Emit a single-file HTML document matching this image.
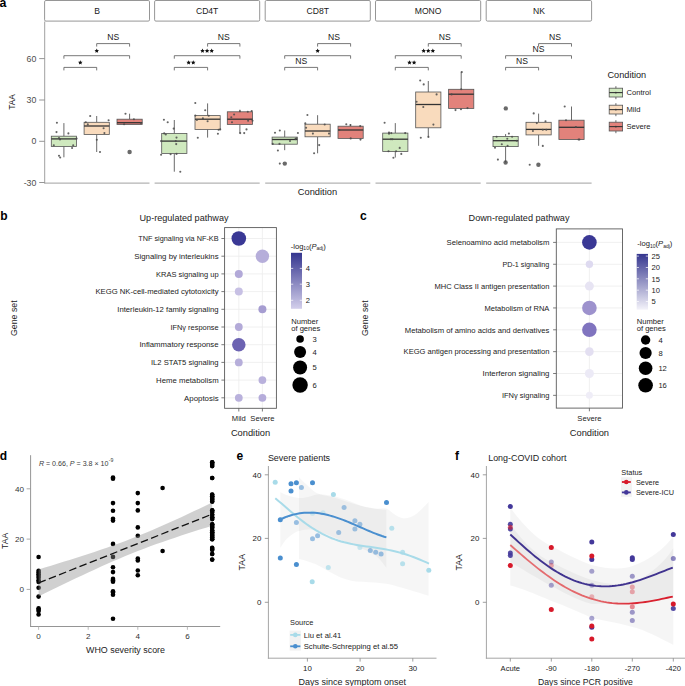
<!DOCTYPE html>
<html><head><meta charset="utf-8"><title>Figure</title>
<style>
html,body{margin:0;padding:0;background:#fff;}
body{width:685px;height:686px;overflow:hidden;}
svg{display:block;font-family:"Liberation Sans", sans-serif;}
</style></head>
<body>
<svg width="685" height="686" viewBox="0 0 685 686">
<rect x="0" y="0" width="685" height="686" fill="#fff"/>
<text x="-0.60" y="6.80" font-size="12.3" text-anchor="start" fill="#000" font-weight="bold" >a</text>
<rect x="44.60" y="0.50" width="104.90" height="20.60" fill="#fff" stroke="#8a8a8a" stroke-width="0.9" rx="1.3"/>
<text x="97.05" y="14.30" font-size="8.6" text-anchor="middle" fill="#1a1a1a" font-weight="normal" >B</text>
<line x1="44.60" y1="183.10" x2="149.50" y2="183.10" stroke="#a0a0a0" stroke-width="1" />
<rect x="154.60" y="0.50" width="105.10" height="20.60" fill="#fff" stroke="#8a8a8a" stroke-width="0.9" rx="1.3"/>
<text x="207.15" y="14.30" font-size="8.6" text-anchor="middle" fill="#1a1a1a" font-weight="normal" >CD4T</text>
<line x1="154.60" y1="183.10" x2="259.70" y2="183.10" stroke="#a0a0a0" stroke-width="1" />
<rect x="265.20" y="0.50" width="105.10" height="20.60" fill="#fff" stroke="#8a8a8a" stroke-width="0.9" rx="1.3"/>
<text x="317.75" y="14.30" font-size="8.6" text-anchor="middle" fill="#1a1a1a" font-weight="normal" >CD8T</text>
<line x1="265.20" y1="183.10" x2="370.30" y2="183.10" stroke="#a0a0a0" stroke-width="1" />
<rect x="375.50" y="0.50" width="105.20" height="20.60" fill="#fff" stroke="#8a8a8a" stroke-width="0.9" rx="1.3"/>
<text x="428.10" y="14.30" font-size="8.6" text-anchor="middle" fill="#1a1a1a" font-weight="normal" >MONO</text>
<line x1="375.50" y1="183.10" x2="480.70" y2="183.10" stroke="#a0a0a0" stroke-width="1" />
<rect x="486.20" y="0.50" width="105.40" height="20.60" fill="#fff" stroke="#8a8a8a" stroke-width="0.9" rx="1.3"/>
<text x="538.90" y="14.30" font-size="8.6" text-anchor="middle" fill="#1a1a1a" font-weight="normal" >NK</text>
<line x1="486.20" y1="183.10" x2="591.60" y2="183.10" stroke="#a0a0a0" stroke-width="1" />
<line x1="44.70" y1="21.50" x2="44.70" y2="183.60" stroke="#a0a0a0" stroke-width="1" />
<line x1="39.20" y1="58.60" x2="44.70" y2="58.60" stroke="#8a8a8a" stroke-width="0.9" />
<text x="36.40" y="61.77" font-size="8.8" text-anchor="end" fill="#4d4d4d" font-weight="normal" >60</text>
<line x1="39.20" y1="100.00" x2="44.70" y2="100.00" stroke="#8a8a8a" stroke-width="0.9" />
<text x="36.40" y="103.17" font-size="8.8" text-anchor="end" fill="#4d4d4d" font-weight="normal" >30</text>
<line x1="39.20" y1="141.30" x2="44.70" y2="141.30" stroke="#8a8a8a" stroke-width="0.9" />
<text x="36.40" y="144.47" font-size="8.8" text-anchor="end" fill="#4d4d4d" font-weight="normal" >0</text>
<line x1="39.20" y1="182.50" x2="44.70" y2="182.50" stroke="#8a8a8a" stroke-width="0.9" />
<text x="36.40" y="185.67" font-size="8.8" text-anchor="end" fill="#4d4d4d" font-weight="normal" >-30</text>
<text x="0" y="0" font-size="8.4" text-anchor="middle" fill="#1a1a1a" transform="translate(15.42,102.00) rotate(-90)">TAA</text>
<text x="317.45" y="194.71" font-size="9.2" text-anchor="middle" fill="#1a1a1a" font-weight="normal" textLength="39.30" lengthAdjust="spacingAndGlyphs">Condition</text>
<line x1="63.90" y1="123.10" x2="63.90" y2="136.20" stroke="#444" stroke-width="0.8" />
<line x1="63.90" y1="146.50" x2="63.90" y2="157.30" stroke="#444" stroke-width="0.8" />
<rect x="51.30" y="136.20" width="25.20" height="10.30" fill="#cfe9be" stroke="#555" stroke-width="0.8" />
<line x1="51.30" y1="138.90" x2="76.50" y2="138.90" stroke="#333" stroke-width="1.3" />
<circle cx="56.90" cy="122.80" r="1.05" fill="#4a4a4a" fill-opacity="0.85"/>
<circle cx="56.50" cy="132.10" r="1.05" fill="#4a4a4a" fill-opacity="0.85"/>
<circle cx="68.40" cy="133.40" r="1.05" fill="#4a4a4a" fill-opacity="0.85"/>
<circle cx="59.00" cy="138.10" r="1.05" fill="#4a4a4a" fill-opacity="0.85"/>
<circle cx="60.00" cy="139.50" r="1.05" fill="#4a4a4a" fill-opacity="0.85"/>
<circle cx="53.80" cy="145.20" r="1.05" fill="#4a4a4a" fill-opacity="0.85"/>
<circle cx="73.20" cy="145.20" r="1.05" fill="#4a4a4a" fill-opacity="0.85"/>
<circle cx="72.10" cy="148.00" r="1.05" fill="#4a4a4a" fill-opacity="0.85"/>
<circle cx="59.00" cy="155.80" r="1.05" fill="#4a4a4a" fill-opacity="0.85"/>
<circle cx="60.20" cy="157.50" r="1.05" fill="#4a4a4a" fill-opacity="0.85"/>
<circle cx="76.60" cy="138.60" r="1.05" fill="#4a4a4a" fill-opacity="0.85"/>
<line x1="96.70" y1="116.00" x2="96.70" y2="122.30" stroke="#444" stroke-width="0.8" />
<line x1="96.70" y1="134.50" x2="96.70" y2="152.00" stroke="#444" stroke-width="0.8" />
<rect x="84.10" y="122.30" width="25.20" height="12.20" fill="#f9dbbd" stroke="#555" stroke-width="0.8" />
<line x1="84.10" y1="126.00" x2="109.30" y2="126.00" stroke="#333" stroke-width="1.3" />
<circle cx="90.20" cy="116.00" r="1.05" fill="#4a4a4a" fill-opacity="0.85"/>
<circle cx="85.80" cy="122.30" r="1.05" fill="#4a4a4a" fill-opacity="0.85"/>
<circle cx="87.80" cy="124.40" r="1.05" fill="#4a4a4a" fill-opacity="0.85"/>
<circle cx="108.60" cy="120.30" r="1.05" fill="#4a4a4a" fill-opacity="0.85"/>
<circle cx="103.60" cy="128.20" r="1.05" fill="#4a4a4a" fill-opacity="0.85"/>
<circle cx="104.40" cy="133.10" r="1.05" fill="#4a4a4a" fill-opacity="0.85"/>
<circle cx="96.80" cy="139.70" r="1.05" fill="#4a4a4a" fill-opacity="0.85"/>
<circle cx="100.00" cy="152.00" r="1.05" fill="#4a4a4a" fill-opacity="0.85"/>
<circle cx="129.60" cy="152.00" r="2.20" fill="#6a6a6a" />
<line x1="129.60" y1="113.70" x2="129.60" y2="119.20" stroke="#444" stroke-width="0.8" />
<line x1="129.60" y1="124.40" x2="129.60" y2="124.40" stroke="#444" stroke-width="0.8" />
<rect x="117.00" y="119.20" width="25.20" height="5.20" fill="#e2827b" stroke="#555" stroke-width="0.8" />
<line x1="117.00" y1="122.70" x2="142.20" y2="122.70" stroke="#333" stroke-width="1.3" />
<circle cx="125.50" cy="113.70" r="1.05" fill="#4a4a4a" fill-opacity="0.85"/>
<circle cx="133.90" cy="119.20" r="1.05" fill="#4a4a4a" fill-opacity="0.85"/>
<circle cx="124.10" cy="124.20" r="1.05" fill="#4a4a4a" fill-opacity="0.85"/>
<circle cx="141.00" cy="123.10" r="1.05" fill="#4a4a4a" fill-opacity="0.85"/>
<line x1="174.30" y1="120.00" x2="174.30" y2="133.40" stroke="#444" stroke-width="0.8" />
<line x1="174.30" y1="153.40" x2="174.30" y2="171.70" stroke="#444" stroke-width="0.8" />
<rect x="161.70" y="133.40" width="25.20" height="20.00" fill="#cfe9be" stroke="#555" stroke-width="0.8" />
<line x1="161.70" y1="141.10" x2="186.90" y2="141.10" stroke="#333" stroke-width="1.3" />
<circle cx="163.90" cy="119.70" r="1.05" fill="#4a4a4a" fill-opacity="0.85"/>
<circle cx="167.70" cy="122.30" r="1.05" fill="#4a4a4a" fill-opacity="0.85"/>
<circle cx="173.70" cy="128.60" r="1.05" fill="#4a4a4a" fill-opacity="0.85"/>
<circle cx="164.20" cy="133.40" r="1.05" fill="#4a4a4a" fill-opacity="0.85"/>
<circle cx="165.80" cy="134.50" r="1.05" fill="#4a4a4a" fill-opacity="0.85"/>
<circle cx="176.50" cy="137.60" r="1.05" fill="#4a4a4a" fill-opacity="0.85"/>
<circle cx="175.80" cy="141.10" r="1.05" fill="#4a4a4a" fill-opacity="0.85"/>
<circle cx="161.10" cy="141.10" r="1.05" fill="#4a4a4a" fill-opacity="0.85"/>
<circle cx="176.20" cy="144.10" r="1.05" fill="#4a4a4a" fill-opacity="0.85"/>
<circle cx="161.10" cy="154.70" r="1.05" fill="#4a4a4a" fill-opacity="0.85"/>
<circle cx="170.60" cy="154.20" r="1.05" fill="#4a4a4a" fill-opacity="0.85"/>
<circle cx="176.50" cy="153.90" r="1.05" fill="#4a4a4a" fill-opacity="0.85"/>
<circle cx="180.30" cy="171.70" r="1.05" fill="#4a4a4a" fill-opacity="0.85"/>
<line x1="207.60" y1="103.40" x2="207.60" y2="115.60" stroke="#444" stroke-width="0.8" />
<line x1="207.60" y1="129.40" x2="207.60" y2="137.60" stroke="#444" stroke-width="0.8" />
<rect x="195.00" y="115.60" width="25.20" height="13.80" fill="#f9dbbd" stroke="#555" stroke-width="0.8" />
<line x1="195.00" y1="119.20" x2="220.20" y2="119.20" stroke="#333" stroke-width="1.3" />
<circle cx="195.30" cy="103.00" r="1.05" fill="#4a4a4a" fill-opacity="0.85"/>
<circle cx="205.20" cy="110.20" r="1.05" fill="#4a4a4a" fill-opacity="0.85"/>
<circle cx="195.30" cy="115.60" r="1.05" fill="#4a4a4a" fill-opacity="0.85"/>
<circle cx="196.90" cy="120.00" r="1.05" fill="#4a4a4a" fill-opacity="0.85"/>
<circle cx="202.90" cy="118.40" r="1.05" fill="#4a4a4a" fill-opacity="0.85"/>
<circle cx="208.70" cy="115.70" r="1.05" fill="#4a4a4a" fill-opacity="0.85"/>
<circle cx="207.60" cy="121.20" r="1.05" fill="#4a4a4a" fill-opacity="0.85"/>
<circle cx="218.60" cy="129.80" r="1.05" fill="#4a4a4a" fill-opacity="0.85"/>
<circle cx="220.20" cy="129.40" r="1.05" fill="#4a4a4a" fill-opacity="0.85"/>
<circle cx="217.90" cy="133.70" r="1.05" fill="#4a4a4a" fill-opacity="0.85"/>
<circle cx="197.80" cy="137.80" r="1.05" fill="#4a4a4a" fill-opacity="0.85"/>
<line x1="239.90" y1="109.70" x2="239.90" y2="111.80" stroke="#444" stroke-width="0.8" />
<line x1="239.90" y1="124.40" x2="239.90" y2="133.40" stroke="#444" stroke-width="0.8" />
<rect x="227.30" y="111.80" width="25.20" height="12.60" fill="#e2827b" stroke="#555" stroke-width="0.8" />
<line x1="227.30" y1="119.20" x2="252.50" y2="119.20" stroke="#333" stroke-width="1.3" />
<circle cx="239.90" cy="111.30" r="1.05" fill="#4a4a4a" fill-opacity="0.85"/>
<circle cx="247.80" cy="111.80" r="1.05" fill="#4a4a4a" fill-opacity="0.85"/>
<circle cx="251.70" cy="111.00" r="1.05" fill="#4a4a4a" fill-opacity="0.85"/>
<circle cx="234.10" cy="114.50" r="1.05" fill="#4a4a4a" fill-opacity="0.85"/>
<circle cx="231.30" cy="117.30" r="1.05" fill="#4a4a4a" fill-opacity="0.85"/>
<circle cx="248.10" cy="120.80" r="1.05" fill="#4a4a4a" fill-opacity="0.85"/>
<circle cx="252.50" cy="120.80" r="1.05" fill="#4a4a4a" fill-opacity="0.85"/>
<circle cx="232.00" cy="122.30" r="1.05" fill="#4a4a4a" fill-opacity="0.85"/>
<circle cx="246.50" cy="129.40" r="1.05" fill="#4a4a4a" fill-opacity="0.85"/>
<circle cx="240.20" cy="133.10" r="1.05" fill="#4a4a4a" fill-opacity="0.85"/>
<circle cx="244.20" cy="133.10" r="1.05" fill="#4a4a4a" fill-opacity="0.85"/>
<circle cx="284.80" cy="163.60" r="2.20" fill="#6a6a6a" />
<line x1="284.70" y1="130.50" x2="284.70" y2="137.10" stroke="#444" stroke-width="0.8" />
<line x1="284.70" y1="144.20" x2="284.70" y2="150.20" stroke="#444" stroke-width="0.8" />
<rect x="272.10" y="137.10" width="25.20" height="7.10" fill="#cfe9be" stroke="#555" stroke-width="0.8" />
<line x1="272.10" y1="139.50" x2="297.30" y2="139.50" stroke="#333" stroke-width="1.3" />
<circle cx="275.00" cy="132.80" r="1.05" fill="#4a4a4a" fill-opacity="0.85"/>
<circle cx="279.80" cy="130.50" r="1.05" fill="#4a4a4a" fill-opacity="0.85"/>
<circle cx="297.90" cy="133.00" r="1.05" fill="#4a4a4a" fill-opacity="0.85"/>
<circle cx="296.30" cy="138.40" r="1.05" fill="#4a4a4a" fill-opacity="0.85"/>
<circle cx="295.50" cy="139.10" r="1.05" fill="#4a4a4a" fill-opacity="0.85"/>
<circle cx="290.00" cy="141.00" r="1.05" fill="#4a4a4a" fill-opacity="0.85"/>
<circle cx="272.70" cy="143.90" r="1.05" fill="#4a4a4a" fill-opacity="0.85"/>
<circle cx="279.50" cy="143.90" r="1.05" fill="#4a4a4a" fill-opacity="0.85"/>
<circle cx="277.90" cy="150.50" r="1.05" fill="#4a4a4a" fill-opacity="0.85"/>
<circle cx="279.80" cy="163.60" r="1.05" fill="#4a4a4a" fill-opacity="0.85"/>
<line x1="317.60" y1="115.20" x2="317.60" y2="124.20" stroke="#444" stroke-width="0.8" />
<line x1="317.60" y1="136.80" x2="317.60" y2="153.30" stroke="#444" stroke-width="0.8" />
<rect x="305.00" y="124.20" width="25.20" height="12.60" fill="#f9dbbd" stroke="#555" stroke-width="0.8" />
<line x1="305.00" y1="131.00" x2="330.20" y2="131.00" stroke="#333" stroke-width="1.3" />
<circle cx="307.40" cy="115.00" r="1.05" fill="#4a4a4a" fill-opacity="0.85"/>
<circle cx="305.30" cy="123.40" r="1.05" fill="#4a4a4a" fill-opacity="0.85"/>
<circle cx="306.10" cy="127.80" r="1.05" fill="#4a4a4a" fill-opacity="0.85"/>
<circle cx="324.70" cy="124.50" r="1.05" fill="#4a4a4a" fill-opacity="0.85"/>
<circle cx="312.90" cy="133.60" r="1.05" fill="#4a4a4a" fill-opacity="0.85"/>
<circle cx="329.00" cy="133.60" r="1.05" fill="#4a4a4a" fill-opacity="0.85"/>
<circle cx="319.20" cy="145.10" r="1.05" fill="#4a4a4a" fill-opacity="0.85"/>
<circle cx="314.10" cy="153.30" r="1.05" fill="#4a4a4a" fill-opacity="0.85"/>
<line x1="350.60" y1="124.20" x2="350.60" y2="126.20" stroke="#444" stroke-width="0.8" />
<line x1="350.60" y1="138.40" x2="350.60" y2="138.40" stroke="#444" stroke-width="0.8" />
<rect x="338.00" y="126.20" width="25.20" height="12.20" fill="#e2827b" stroke="#555" stroke-width="0.8" />
<line x1="338.00" y1="130.00" x2="363.20" y2="130.00" stroke="#333" stroke-width="1.3" />
<circle cx="346.30" cy="124.20" r="1.05" fill="#4a4a4a" fill-opacity="0.85"/>
<circle cx="350.40" cy="125.00" r="1.05" fill="#4a4a4a" fill-opacity="0.85"/>
<circle cx="360.20" cy="126.10" r="1.05" fill="#4a4a4a" fill-opacity="0.85"/>
<circle cx="339.40" cy="130.00" r="1.05" fill="#4a4a4a" fill-opacity="0.85"/>
<circle cx="350.70" cy="138.40" r="1.05" fill="#4a4a4a" fill-opacity="0.85"/>
<circle cx="360.50" cy="139.60" r="1.05" fill="#4a4a4a" fill-opacity="0.85"/>
<line x1="395.30" y1="123.10" x2="395.30" y2="133.10" stroke="#444" stroke-width="0.8" />
<line x1="395.30" y1="151.50" x2="395.30" y2="157.50" stroke="#444" stroke-width="0.8" />
<rect x="382.70" y="133.10" width="25.20" height="18.40" fill="#cfe9be" stroke="#555" stroke-width="0.8" />
<line x1="382.70" y1="139.20" x2="407.90" y2="139.20" stroke="#333" stroke-width="1.3" />
<circle cx="384.60" cy="122.80" r="1.05" fill="#4a4a4a" fill-opacity="0.85"/>
<circle cx="389.00" cy="132.60" r="1.05" fill="#4a4a4a" fill-opacity="0.85"/>
<circle cx="389.00" cy="133.70" r="1.05" fill="#4a4a4a" fill-opacity="0.85"/>
<circle cx="391.30" cy="133.10" r="1.05" fill="#4a4a4a" fill-opacity="0.85"/>
<circle cx="405.20" cy="133.10" r="1.05" fill="#4a4a4a" fill-opacity="0.85"/>
<circle cx="390.90" cy="139.20" r="1.05" fill="#4a4a4a" fill-opacity="0.85"/>
<circle cx="392.40" cy="139.20" r="1.05" fill="#4a4a4a" fill-opacity="0.85"/>
<circle cx="399.70" cy="147.90" r="1.05" fill="#4a4a4a" fill-opacity="0.85"/>
<circle cx="388.50" cy="151.20" r="1.05" fill="#4a4a4a" fill-opacity="0.85"/>
<circle cx="396.10" cy="151.20" r="1.05" fill="#4a4a4a" fill-opacity="0.85"/>
<circle cx="401.30" cy="153.90" r="1.05" fill="#4a4a4a" fill-opacity="0.85"/>
<circle cx="393.40" cy="157.80" r="1.05" fill="#4a4a4a" fill-opacity="0.85"/>
<line x1="428.30" y1="81.00" x2="428.30" y2="92.00" stroke="#444" stroke-width="0.8" />
<line x1="428.30" y1="127.80" x2="428.30" y2="136.90" stroke="#444" stroke-width="0.8" />
<rect x="415.70" y="92.00" width="25.20" height="35.80" fill="#f9dbbd" stroke="#555" stroke-width="0.8" />
<line x1="415.70" y1="104.50" x2="440.90" y2="104.50" stroke="#333" stroke-width="1.3" />
<circle cx="420.20" cy="80.50" r="1.05" fill="#4a4a4a" fill-opacity="0.85"/>
<circle cx="423.70" cy="84.40" r="1.05" fill="#4a4a4a" fill-opacity="0.85"/>
<circle cx="436.60" cy="94.40" r="1.05" fill="#4a4a4a" fill-opacity="0.85"/>
<circle cx="416.60" cy="101.80" r="1.05" fill="#4a4a4a" fill-opacity="0.85"/>
<circle cx="423.30" cy="107.00" r="1.05" fill="#4a4a4a" fill-opacity="0.85"/>
<circle cx="433.40" cy="124.60" r="1.05" fill="#4a4a4a" fill-opacity="0.85"/>
<circle cx="420.80" cy="137.70" r="1.05" fill="#4a4a4a" fill-opacity="0.85"/>
<circle cx="428.40" cy="136.90" r="1.05" fill="#4a4a4a" fill-opacity="0.85"/>
<line x1="461.20" y1="71.80" x2="461.20" y2="89.30" stroke="#444" stroke-width="0.8" />
<line x1="461.20" y1="108.40" x2="461.20" y2="108.40" stroke="#444" stroke-width="0.8" />
<rect x="448.60" y="89.30" width="25.20" height="19.10" fill="#e2827b" stroke="#555" stroke-width="0.8" />
<line x1="448.60" y1="94.20" x2="473.80" y2="94.20" stroke="#333" stroke-width="1.3" />
<circle cx="461.80" cy="72.10" r="1.05" fill="#4a4a4a" fill-opacity="0.85"/>
<circle cx="461.20" cy="89.30" r="1.05" fill="#4a4a4a" fill-opacity="0.85"/>
<circle cx="451.60" cy="94.40" r="1.05" fill="#4a4a4a" fill-opacity="0.85"/>
<circle cx="455.50" cy="110.10" r="1.05" fill="#4a4a4a" fill-opacity="0.85"/>
<circle cx="461.00" cy="109.20" r="1.05" fill="#4a4a4a" fill-opacity="0.85"/>
<circle cx="467.50" cy="108.10" r="1.05" fill="#4a4a4a" fill-opacity="0.85"/>
<circle cx="505.80" cy="108.40" r="2.20" fill="#6a6a6a" />
<circle cx="505.60" cy="162.50" r="2.20" fill="#6a6a6a" />
<line x1="505.60" y1="134.10" x2="505.60" y2="136.50" stroke="#444" stroke-width="0.8" />
<line x1="505.60" y1="146.60" x2="505.60" y2="162.50" stroke="#444" stroke-width="0.8" />
<rect x="493.00" y="136.50" width="25.20" height="10.10" fill="#cfe9be" stroke="#555" stroke-width="0.8" />
<line x1="493.00" y1="140.70" x2="518.20" y2="140.70" stroke="#333" stroke-width="1.3" />
<circle cx="508.90" cy="133.60" r="1.05" fill="#4a4a4a" fill-opacity="0.85"/>
<circle cx="496.60" cy="136.80" r="1.05" fill="#4a4a4a" fill-opacity="0.85"/>
<circle cx="512.10" cy="136.80" r="1.05" fill="#4a4a4a" fill-opacity="0.85"/>
<circle cx="507.30" cy="138.80" r="1.05" fill="#4a4a4a" fill-opacity="0.85"/>
<circle cx="516.80" cy="140.70" r="1.05" fill="#4a4a4a" fill-opacity="0.85"/>
<circle cx="501.80" cy="144.30" r="1.05" fill="#4a4a4a" fill-opacity="0.85"/>
<circle cx="507.60" cy="145.90" r="1.05" fill="#4a4a4a" fill-opacity="0.85"/>
<circle cx="495.00" cy="147.80" r="1.05" fill="#4a4a4a" fill-opacity="0.85"/>
<circle cx="497.90" cy="159.60" r="1.05" fill="#4a4a4a" fill-opacity="0.85"/>
<circle cx="538.40" cy="164.80" r="2.20" fill="#6a6a6a" />
<line x1="538.60" y1="113.60" x2="538.60" y2="122.30" stroke="#444" stroke-width="0.8" />
<line x1="538.60" y1="134.90" x2="538.60" y2="145.80" stroke="#444" stroke-width="0.8" />
<rect x="526.00" y="122.30" width="25.20" height="12.60" fill="#f9dbbd" stroke="#555" stroke-width="0.8" />
<line x1="526.00" y1="129.40" x2="551.20" y2="129.40" stroke="#333" stroke-width="1.3" />
<circle cx="533.70" cy="113.40" r="1.05" fill="#4a4a4a" fill-opacity="0.85"/>
<circle cx="545.50" cy="121.30" r="1.05" fill="#4a4a4a" fill-opacity="0.85"/>
<circle cx="536.80" cy="123.10" r="1.05" fill="#4a4a4a" fill-opacity="0.85"/>
<circle cx="532.90" cy="131.00" r="1.05" fill="#4a4a4a" fill-opacity="0.85"/>
<circle cx="542.80" cy="129.70" r="1.05" fill="#4a4a4a" fill-opacity="0.85"/>
<circle cx="546.30" cy="129.70" r="1.05" fill="#4a4a4a" fill-opacity="0.85"/>
<circle cx="542.80" cy="145.90" r="1.05" fill="#4a4a4a" fill-opacity="0.85"/>
<circle cx="529.70" cy="164.80" r="1.05" fill="#4a4a4a" fill-opacity="0.85"/>
<line x1="571.50" y1="106.50" x2="571.50" y2="120.20" stroke="#444" stroke-width="0.8" />
<line x1="571.50" y1="139.50" x2="571.50" y2="139.50" stroke="#444" stroke-width="0.8" />
<rect x="558.90" y="120.20" width="25.20" height="19.30" fill="#e2827b" stroke="#555" stroke-width="0.8" />
<line x1="558.90" y1="127.30" x2="584.10" y2="127.30" stroke="#333" stroke-width="1.3" />
<circle cx="564.70" cy="106.50" r="1.05" fill="#4a4a4a" fill-opacity="0.85"/>
<circle cx="566.00" cy="120.20" r="1.05" fill="#4a4a4a" fill-opacity="0.85"/>
<circle cx="575.90" cy="127.00" r="1.05" fill="#4a4a4a" fill-opacity="0.85"/>
<circle cx="578.60" cy="139.50" r="1.05" fill="#4a4a4a" fill-opacity="0.85"/>
<circle cx="579.40" cy="139.50" r="1.05" fill="#4a4a4a" fill-opacity="0.85"/>
<polyline points="96.70,46.60 96.70,43.60 129.60,43.60 129.60,46.60" fill="none" stroke="#555" stroke-width="0.8"/>
<text x="113.15" y="40.30" font-size="8.6" text-anchor="middle" fill="#1a1a1a" font-weight="normal" >NS</text>
<polyline points="63.90,58.70 63.90,55.70 129.60,55.70 129.60,58.70" fill="none" stroke="#555" stroke-width="0.8"/>
<polygon points="96.75,48.55 97.44,49.95 98.98,50.17 97.87,51.26 98.13,52.80 96.75,52.08 95.37,52.80 95.63,51.26 94.52,50.17 96.06,49.95" fill="#111"/>
<polyline points="63.90,70.40 63.90,67.40 96.70,67.40 96.70,70.40" fill="none" stroke="#555" stroke-width="0.8"/>
<polygon points="80.30,60.25 80.99,61.65 82.53,61.87 81.42,62.96 81.68,64.50 80.30,63.78 78.92,64.50 79.18,62.96 78.07,61.87 79.61,61.65" fill="#111"/>
<polyline points="207.60,46.60 207.60,43.60 239.90,43.60 239.90,46.60" fill="none" stroke="#555" stroke-width="0.8"/>
<text x="223.75" y="40.30" font-size="8.6" text-anchor="middle" fill="#1a1a1a" font-weight="normal" >NS</text>
<polyline points="174.30,58.70 174.30,55.70 239.90,55.70 239.90,58.70" fill="none" stroke="#555" stroke-width="0.8"/>
<polygon points="202.50,48.55 203.19,49.95 204.73,50.17 203.62,51.26 203.88,52.80 202.50,52.08 201.12,52.80 201.38,51.26 200.27,50.17 201.81,49.95" fill="#111"/>
<polygon points="207.10,48.55 207.79,49.95 209.33,50.17 208.22,51.26 208.48,52.80 207.10,52.08 205.72,52.80 205.98,51.26 204.87,50.17 206.41,49.95" fill="#111"/>
<polygon points="211.70,48.55 212.39,49.95 213.93,50.17 212.82,51.26 213.08,52.80 211.70,52.08 210.32,52.80 210.58,51.26 209.47,50.17 211.01,49.95" fill="#111"/>
<polyline points="174.30,70.40 174.30,67.40 207.60,67.40 207.60,70.40" fill="none" stroke="#555" stroke-width="0.8"/>
<polygon points="188.65,60.25 189.34,61.65 190.88,61.87 189.77,62.96 190.03,64.50 188.65,63.78 187.27,64.50 187.53,62.96 186.42,61.87 187.96,61.65" fill="#111"/>
<polygon points="193.25,60.25 193.94,61.65 195.48,61.87 194.37,62.96 194.63,64.50 193.25,63.78 191.87,64.50 192.13,62.96 191.02,61.87 192.56,61.65" fill="#111"/>
<polyline points="317.60,46.60 317.60,43.60 350.60,43.60 350.60,46.60" fill="none" stroke="#555" stroke-width="0.8"/>
<text x="334.10" y="40.30" font-size="8.6" text-anchor="middle" fill="#1a1a1a" font-weight="normal" >NS</text>
<polyline points="284.70,58.70 284.70,55.70 350.60,55.70 350.60,58.70" fill="none" stroke="#555" stroke-width="0.8"/>
<polygon points="317.65,48.55 318.34,49.95 319.88,50.17 318.77,51.26 319.03,52.80 317.65,52.08 316.27,52.80 316.53,51.26 315.42,50.17 316.96,49.95" fill="#111"/>
<polyline points="284.70,70.40 284.70,67.40 317.60,67.40 317.60,70.40" fill="none" stroke="#555" stroke-width="0.8"/>
<text x="301.15" y="64.10" font-size="8.6" text-anchor="middle" fill="#1a1a1a" font-weight="normal" >NS</text>
<polyline points="428.30,46.60 428.30,43.60 461.20,43.60 461.20,46.60" fill="none" stroke="#555" stroke-width="0.8"/>
<text x="444.75" y="40.30" font-size="8.6" text-anchor="middle" fill="#1a1a1a" font-weight="normal" >NS</text>
<polyline points="395.30,58.70 395.30,55.70 461.20,55.70 461.20,58.70" fill="none" stroke="#555" stroke-width="0.8"/>
<polygon points="423.65,48.55 424.34,49.95 425.88,50.17 424.77,51.26 425.03,52.80 423.65,52.08 422.27,52.80 422.53,51.26 421.42,50.17 422.96,49.95" fill="#111"/>
<polygon points="428.25,48.55 428.94,49.95 430.48,50.17 429.37,51.26 429.63,52.80 428.25,52.08 426.87,52.80 427.13,51.26 426.02,50.17 427.56,49.95" fill="#111"/>
<polygon points="432.85,48.55 433.54,49.95 435.08,50.17 433.97,51.26 434.23,52.80 432.85,52.08 431.47,52.80 431.73,51.26 430.62,50.17 432.16,49.95" fill="#111"/>
<polyline points="395.30,70.40 395.30,67.40 428.30,67.40 428.30,70.40" fill="none" stroke="#555" stroke-width="0.8"/>
<polygon points="409.50,60.25 410.19,61.65 411.73,61.87 410.62,62.96 410.88,64.50 409.50,63.78 408.12,64.50 408.38,62.96 407.27,61.87 408.81,61.65" fill="#111"/>
<polygon points="414.10,60.25 414.79,61.65 416.33,61.87 415.22,62.96 415.48,64.50 414.10,63.78 412.72,64.50 412.98,62.96 411.87,61.87 413.41,61.65" fill="#111"/>
<polyline points="538.60,46.60 538.60,43.60 571.50,43.60 571.50,46.60" fill="none" stroke="#555" stroke-width="0.8"/>
<text x="555.05" y="40.30" font-size="8.6" text-anchor="middle" fill="#1a1a1a" font-weight="normal" >NS</text>
<polyline points="505.60,58.70 505.60,55.70 571.50,55.70 571.50,58.70" fill="none" stroke="#555" stroke-width="0.8"/>
<text x="538.55" y="52.40" font-size="8.6" text-anchor="middle" fill="#1a1a1a" font-weight="normal" >NS</text>
<polyline points="505.60,70.40 505.60,67.40 538.60,67.40 538.60,70.40" fill="none" stroke="#555" stroke-width="0.8"/>
<text x="522.10" y="64.10" font-size="8.6" text-anchor="middle" fill="#1a1a1a" font-weight="normal" >NS</text>
<text x="626.85" y="78.21" font-size="9.2" text-anchor="middle" fill="#1a1a1a" font-weight="normal" textLength="38.70" lengthAdjust="spacingAndGlyphs">Condition</text>
<line x1="615.90" y1="86.20" x2="615.90" y2="99.20" stroke="#444" stroke-width="0.8" />
<rect x="609.20" y="88.20" width="13.40" height="8.80" fill="#cfe9be" stroke="#555" stroke-width="0.8" />
<line x1="609.20" y1="92.60" x2="622.60" y2="92.60" stroke="#333" stroke-width="1.1" />
<circle cx="615.90" cy="92.60" r="0.90" fill="#333" />
<text x="626.50" y="95.34" font-size="7.6" text-anchor="start" fill="#1a1a1a" font-weight="normal" >Control</text>
<line x1="615.90" y1="103.20" x2="615.90" y2="116.20" stroke="#444" stroke-width="0.8" />
<rect x="609.20" y="105.20" width="13.40" height="8.80" fill="#f9dbbd" stroke="#555" stroke-width="0.8" />
<line x1="609.20" y1="109.60" x2="622.60" y2="109.60" stroke="#333" stroke-width="1.1" />
<circle cx="615.90" cy="109.60" r="0.90" fill="#333" />
<text x="626.50" y="112.34" font-size="7.6" text-anchor="start" fill="#1a1a1a" font-weight="normal" >Mild</text>
<line x1="615.90" y1="120.20" x2="615.90" y2="133.20" stroke="#444" stroke-width="0.8" />
<rect x="609.20" y="122.20" width="13.40" height="8.80" fill="#e2827b" stroke="#555" stroke-width="0.8" />
<line x1="609.20" y1="126.60" x2="622.60" y2="126.60" stroke="#333" stroke-width="1.1" />
<circle cx="615.90" cy="126.60" r="0.90" fill="#333" />
<text x="626.50" y="129.34" font-size="7.6" text-anchor="start" fill="#1a1a1a" font-weight="normal" >Severe</text>
<text x="0.20" y="219.60" font-size="12.0" text-anchor="start" fill="#000" font-weight="bold" >b</text>
<line x1="224.60" y1="238.50" x2="276.40" y2="238.50" stroke="#ececec" stroke-width="0.8" />
<line x1="224.60" y1="256.20" x2="276.40" y2="256.20" stroke="#ececec" stroke-width="0.8" />
<line x1="224.60" y1="273.90" x2="276.40" y2="273.90" stroke="#ececec" stroke-width="0.8" />
<line x1="224.60" y1="291.60" x2="276.40" y2="291.60" stroke="#ececec" stroke-width="0.8" />
<line x1="224.60" y1="309.30" x2="276.40" y2="309.30" stroke="#ececec" stroke-width="0.8" />
<line x1="224.60" y1="327.00" x2="276.40" y2="327.00" stroke="#ececec" stroke-width="0.8" />
<line x1="224.60" y1="344.70" x2="276.40" y2="344.70" stroke="#ececec" stroke-width="0.8" />
<line x1="224.60" y1="362.40" x2="276.40" y2="362.40" stroke="#ececec" stroke-width="0.8" />
<line x1="224.60" y1="380.10" x2="276.40" y2="380.10" stroke="#ececec" stroke-width="0.8" />
<line x1="224.60" y1="397.80" x2="276.40" y2="397.80" stroke="#ececec" stroke-width="0.8" />
<line x1="238.80" y1="227.60" x2="238.80" y2="408.30" stroke="#ececec" stroke-width="0.8" />
<line x1="262.40" y1="227.60" x2="262.40" y2="408.30" stroke="#ececec" stroke-width="0.8" />
<rect x="224.60" y="227.60" width="51.80" height="180.70" fill="none" stroke="#5a5a5a" stroke-width="0.9" />
<line x1="221.40" y1="238.50" x2="224.60" y2="238.50" stroke="#5a5a5a" stroke-width="0.8" />
<text x="218.60" y="241.27" font-size="7.7" text-anchor="end" fill="#222" font-weight="normal" textLength="80.40" lengthAdjust="spacingAndGlyphs">TNF signaling via NF-KB</text>
<line x1="221.40" y1="256.20" x2="224.60" y2="256.20" stroke="#5a5a5a" stroke-width="0.8" />
<text x="218.60" y="258.97" font-size="7.7" text-anchor="end" fill="#222" font-weight="normal" textLength="84.30" lengthAdjust="spacingAndGlyphs">Signaling by interleukins</text>
<line x1="221.40" y1="273.90" x2="224.60" y2="273.90" stroke="#5a5a5a" stroke-width="0.8" />
<text x="218.60" y="276.67" font-size="7.7" text-anchor="end" fill="#222" font-weight="normal" textLength="62.50" lengthAdjust="spacingAndGlyphs">KRAS signaling up</text>
<line x1="221.40" y1="291.60" x2="224.60" y2="291.60" stroke="#5a5a5a" stroke-width="0.8" />
<text x="218.60" y="294.37" font-size="7.7" text-anchor="end" fill="#222" font-weight="normal" textLength="123.20" lengthAdjust="spacingAndGlyphs">KEGG NK-cell-mediated cytotoxicity</text>
<line x1="221.40" y1="309.30" x2="224.60" y2="309.30" stroke="#5a5a5a" stroke-width="0.8" />
<text x="218.60" y="312.07" font-size="7.7" text-anchor="end" fill="#222" font-weight="normal" textLength="101.30" lengthAdjust="spacingAndGlyphs">Interleukin-12 family signaling</text>
<line x1="221.40" y1="327.00" x2="224.60" y2="327.00" stroke="#5a5a5a" stroke-width="0.8" />
<text x="218.60" y="329.77" font-size="7.7" text-anchor="end" fill="#222" font-weight="normal" textLength="48.20" lengthAdjust="spacingAndGlyphs">IFNγ response</text>
<line x1="221.40" y1="344.70" x2="224.60" y2="344.70" stroke="#5a5a5a" stroke-width="0.8" />
<text x="218.60" y="347.47" font-size="7.7" text-anchor="end" fill="#222" font-weight="normal" textLength="79.20" lengthAdjust="spacingAndGlyphs">Inflammatory response</text>
<line x1="221.40" y1="362.40" x2="224.60" y2="362.40" stroke="#5a5a5a" stroke-width="0.8" />
<text x="218.60" y="365.17" font-size="7.7" text-anchor="end" fill="#222" font-weight="normal" textLength="67.60" lengthAdjust="spacingAndGlyphs">IL2 STAT5 signaling</text>
<line x1="221.40" y1="380.10" x2="224.60" y2="380.10" stroke="#5a5a5a" stroke-width="0.8" />
<text x="218.60" y="382.87" font-size="7.7" text-anchor="end" fill="#222" font-weight="normal" textLength="62.50" lengthAdjust="spacingAndGlyphs">Heme metabolism</text>
<line x1="221.40" y1="397.80" x2="224.60" y2="397.80" stroke="#5a5a5a" stroke-width="0.8" />
<text x="218.60" y="400.57" font-size="7.7" text-anchor="end" fill="#222" font-weight="normal" textLength="34.50" lengthAdjust="spacingAndGlyphs">Apoptosis</text>
<line x1="238.80" y1="408.30" x2="238.80" y2="411.50" stroke="#5a5a5a" stroke-width="0.8" />
<text x="238.80" y="421.24" font-size="7.6" text-anchor="middle" fill="#222" font-weight="normal" >Mild</text>
<line x1="262.40" y1="408.30" x2="262.40" y2="411.50" stroke="#5a5a5a" stroke-width="0.8" />
<text x="262.40" y="421.24" font-size="7.6" text-anchor="middle" fill="#222" font-weight="normal" >Severe</text>
<text x="250.55" y="435.81" font-size="9.2" text-anchor="middle" fill="#222" font-weight="normal" textLength="39.30" lengthAdjust="spacingAndGlyphs">Condition</text>
<text x="184.00" y="220.84" font-size="9.0" text-anchor="middle" fill="#222" font-weight="normal" textLength="89.00" lengthAdjust="spacingAndGlyphs">Up-regulated pathway</text>
<text x="0" y="0" font-size="8.8" text-anchor="middle" fill="#222" transform="translate(17.37,318.20) rotate(-90)">Gene set</text>
<circle cx="238.80" cy="238.50" r="7.30" fill="#3a3895" />
<circle cx="262.40" cy="256.20" r="6.70" fill="#b6aeda" />
<circle cx="238.80" cy="273.90" r="4.00" fill="#b2a9d8" />
<circle cx="238.80" cy="291.60" r="4.00" fill="#c7c0e4" />
<circle cx="262.40" cy="309.30" r="4.00" fill="#a69dd1" />
<circle cx="238.80" cy="327.00" r="3.90" fill="#b3aad8" />
<circle cx="238.80" cy="344.70" r="6.75" fill="#6c63b2" />
<circle cx="238.80" cy="362.40" r="3.90" fill="#b6aeda" />
<circle cx="262.40" cy="380.10" r="3.90" fill="#b9b1dc" />
<circle cx="238.80" cy="397.80" r="3.90" fill="#b9b1dc" />
<circle cx="262.40" cy="397.80" r="3.90" fill="#b5acda" />
<defs><linearGradient id="gb" x1="0" y1="0" x2="0" y2="1"><stop offset="0" stop-color="#35368f"/><stop offset="1" stop-color="#d3cfeb"/></linearGradient></defs>
<rect x="291.00" y="252.80" width="11.00" height="56.00" fill="url(#gb)" stroke="none" stroke-width="1" />
<line x1="291.00" y1="268.40" x2="293.20" y2="268.40" stroke="#fff" stroke-width="0.7" />
<line x1="299.80" y1="268.40" x2="302.00" y2="268.40" stroke="#fff" stroke-width="0.7" />
<text x="305.80" y="271.14" font-size="7.6" text-anchor="start" fill="#222" font-weight="normal" >4</text>
<line x1="291.00" y1="284.20" x2="293.20" y2="284.20" stroke="#fff" stroke-width="0.7" />
<line x1="299.80" y1="284.20" x2="302.00" y2="284.20" stroke="#fff" stroke-width="0.7" />
<text x="305.80" y="286.94" font-size="7.6" text-anchor="start" fill="#222" font-weight="normal" >3</text>
<line x1="291.00" y1="300.30" x2="293.20" y2="300.30" stroke="#fff" stroke-width="0.7" />
<line x1="299.80" y1="300.30" x2="302.00" y2="300.30" stroke="#fff" stroke-width="0.7" />
<text x="305.80" y="303.04" font-size="7.6" text-anchor="start" fill="#222" font-weight="normal" >2</text>
<text x="290.70" y="248.70" font-size="7.6" fill="#222">-log<tspan font-size="5" dy="1.6">10</tspan><tspan dy="-1.6">(</tspan><tspan font-style="italic">P</tspan><tspan font-size="5" dy="1.6">adj</tspan><tspan dy="-1.6">)</tspan></text>
<text x="291.20" y="324.14" font-size="7.6" text-anchor="start" fill="#222" font-weight="normal" >Number</text>
<text x="291.20" y="331.24" font-size="7.6" text-anchor="start" fill="#222" font-weight="normal" >of genes</text>
<circle cx="300.10" cy="339.00" r="3.80" fill="#000" />
<text x="312.60" y="341.74" font-size="7.6" text-anchor="start" fill="#222" font-weight="normal" >3</text>
<circle cx="300.10" cy="352.10" r="6.00" fill="#000" />
<text x="312.60" y="354.84" font-size="7.6" text-anchor="start" fill="#222" font-weight="normal" >4</text>
<circle cx="300.10" cy="367.50" r="7.00" fill="#000" />
<text x="312.60" y="370.24" font-size="7.6" text-anchor="start" fill="#222" font-weight="normal" >5</text>
<circle cx="300.10" cy="385.00" r="7.70" fill="#000" />
<text x="312.60" y="387.74" font-size="7.6" text-anchor="start" fill="#222" font-weight="normal" >6</text>
<text x="360.00" y="219.50" font-size="12.0" text-anchor="start" fill="#000" font-weight="bold" >c</text>
<line x1="556.30" y1="242.40" x2="622.50" y2="242.40" stroke="#ececec" stroke-width="0.8" />
<line x1="556.30" y1="264.25" x2="622.50" y2="264.25" stroke="#ececec" stroke-width="0.8" />
<line x1="556.30" y1="286.10" x2="622.50" y2="286.10" stroke="#ececec" stroke-width="0.8" />
<line x1="556.30" y1="307.95" x2="622.50" y2="307.95" stroke="#ececec" stroke-width="0.8" />
<line x1="556.30" y1="329.80" x2="622.50" y2="329.80" stroke="#ececec" stroke-width="0.8" />
<line x1="556.30" y1="351.65" x2="622.50" y2="351.65" stroke="#ececec" stroke-width="0.8" />
<line x1="556.30" y1="373.50" x2="622.50" y2="373.50" stroke="#ececec" stroke-width="0.8" />
<line x1="556.30" y1="395.35" x2="622.50" y2="395.35" stroke="#ececec" stroke-width="0.8" />
<line x1="589.40" y1="228.90" x2="589.40" y2="408.10" stroke="#ececec" stroke-width="0.8" />
<rect x="556.30" y="228.90" width="66.20" height="179.20" fill="none" stroke="#5a5a5a" stroke-width="0.9" />
<line x1="553.10" y1="242.40" x2="556.30" y2="242.40" stroke="#5a5a5a" stroke-width="0.8" />
<text x="549.40" y="245.17" font-size="7.7" text-anchor="end" fill="#222" font-weight="normal" textLength="102.90" lengthAdjust="spacingAndGlyphs">Selenoamino acid metabolism</text>
<line x1="553.10" y1="264.25" x2="556.30" y2="264.25" stroke="#5a5a5a" stroke-width="0.8" />
<text x="549.40" y="267.02" font-size="7.7" text-anchor="end" fill="#222" font-weight="normal" textLength="47.00" lengthAdjust="spacingAndGlyphs">PD-1 signaling</text>
<line x1="553.10" y1="286.10" x2="556.30" y2="286.10" stroke="#5a5a5a" stroke-width="0.8" />
<text x="549.40" y="288.87" font-size="7.7" text-anchor="end" fill="#222" font-weight="normal" textLength="115.00" lengthAdjust="spacingAndGlyphs">MHC Class II antigen presentation</text>
<line x1="553.10" y1="307.95" x2="556.30" y2="307.95" stroke="#5a5a5a" stroke-width="0.8" />
<text x="549.40" y="310.72" font-size="7.7" text-anchor="end" fill="#222" font-weight="normal" textLength="64.90" lengthAdjust="spacingAndGlyphs">Metabolism of RNA</text>
<line x1="553.10" y1="329.80" x2="556.30" y2="329.80" stroke="#5a5a5a" stroke-width="0.8" />
<text x="549.40" y="332.57" font-size="7.7" text-anchor="end" fill="#222" font-weight="normal" textLength="144.60" lengthAdjust="spacingAndGlyphs">Metabolism of amino acids and derivatives</text>
<line x1="553.10" y1="351.65" x2="556.30" y2="351.65" stroke="#5a5a5a" stroke-width="0.8" />
<text x="549.40" y="354.42" font-size="7.7" text-anchor="end" fill="#222" font-weight="normal" textLength="145.80" lengthAdjust="spacingAndGlyphs">KEGG antigen processing and presentation</text>
<line x1="553.10" y1="373.50" x2="556.30" y2="373.50" stroke="#5a5a5a" stroke-width="0.8" />
<text x="549.40" y="376.27" font-size="7.7" text-anchor="end" fill="#222" font-weight="normal" textLength="66.80" lengthAdjust="spacingAndGlyphs">Interferon signaling</text>
<line x1="553.10" y1="395.35" x2="556.30" y2="395.35" stroke="#5a5a5a" stroke-width="0.8" />
<text x="549.40" y="398.12" font-size="7.7" text-anchor="end" fill="#222" font-weight="normal" textLength="47.50" lengthAdjust="spacingAndGlyphs">IFNγ signaling</text>
<line x1="589.40" y1="408.10" x2="589.40" y2="411.30" stroke="#5a5a5a" stroke-width="0.8" />
<text x="589.40" y="421.24" font-size="7.6" text-anchor="middle" fill="#222" font-weight="normal" >Severe</text>
<text x="589.40" y="435.81" font-size="9.2" text-anchor="middle" fill="#222" font-weight="normal" textLength="39.30" lengthAdjust="spacingAndGlyphs">Condition</text>
<text x="519.05" y="221.44" font-size="9.0" text-anchor="middle" fill="#222" font-weight="normal" textLength="100.90" lengthAdjust="spacingAndGlyphs">Down-regulated pathway</text>
<text x="0" y="0" font-size="8.8" text-anchor="middle" fill="#222" transform="translate(368.17,318.20) rotate(-90)">Gene set</text>
<circle cx="589.40" cy="242.40" r="7.30" fill="#3a3895" />
<circle cx="589.40" cy="264.25" r="3.70" fill="#dedaf0" />
<circle cx="589.40" cy="286.10" r="4.50" fill="#e7e4f3" />
<circle cx="589.40" cy="307.95" r="7.30" fill="#9d92cd" />
<circle cx="589.40" cy="329.80" r="7.30" fill="#8074bf" />
<circle cx="589.40" cy="351.65" r="4.30" fill="#e3dff1" />
<circle cx="589.40" cy="373.50" r="4.50" fill="#ecEAf6" />
<circle cx="589.40" cy="395.35" r="3.50" fill="#efedf7" />
<defs><linearGradient id="gc" x1="0" y1="0" x2="0" y2="1"><stop offset="0" stop-color="#35368f"/><stop offset="1" stop-color="#f4f3fa"/></linearGradient></defs>
<rect x="636.70" y="253.90" width="11.30" height="55.80" fill="url(#gc)" stroke="none" stroke-width="1" />
<line x1="636.70" y1="256.10" x2="638.90" y2="256.10" stroke="#fff" stroke-width="0.7" />
<line x1="645.80" y1="256.10" x2="648.00" y2="256.10" stroke="#fff" stroke-width="0.7" />
<text x="651.50" y="258.84" font-size="7.6" text-anchor="start" fill="#222" font-weight="normal" >25</text>
<line x1="636.70" y1="267.50" x2="638.90" y2="267.50" stroke="#fff" stroke-width="0.7" />
<line x1="645.80" y1="267.50" x2="648.00" y2="267.50" stroke="#fff" stroke-width="0.7" />
<text x="651.50" y="270.24" font-size="7.6" text-anchor="start" fill="#222" font-weight="normal" >20</text>
<line x1="636.70" y1="278.80" x2="638.90" y2="278.80" stroke="#fff" stroke-width="0.7" />
<line x1="645.80" y1="278.80" x2="648.00" y2="278.80" stroke="#fff" stroke-width="0.7" />
<text x="651.50" y="281.54" font-size="7.6" text-anchor="start" fill="#222" font-weight="normal" >15</text>
<line x1="636.70" y1="290.20" x2="638.90" y2="290.20" stroke="#fff" stroke-width="0.7" />
<line x1="645.80" y1="290.20" x2="648.00" y2="290.20" stroke="#fff" stroke-width="0.7" />
<text x="651.50" y="292.94" font-size="7.6" text-anchor="start" fill="#222" font-weight="normal" >10</text>
<line x1="636.70" y1="301.50" x2="638.90" y2="301.50" stroke="#fff" stroke-width="0.7" />
<line x1="645.80" y1="301.50" x2="648.00" y2="301.50" stroke="#fff" stroke-width="0.7" />
<text x="651.50" y="304.24" font-size="7.6" text-anchor="start" fill="#222" font-weight="normal" >5</text>
<text x="637.30" y="246.30" font-size="7.6" fill="#222">-log<tspan font-size="5" dy="1.6">10</tspan><tspan dy="-1.6">(</tspan><tspan font-style="italic">P</tspan><tspan font-size="5" dy="1.6">adj</tspan><tspan dy="-1.6">)</tspan></text>
<text x="636.70" y="323.94" font-size="7.6" text-anchor="start" fill="#222" font-weight="normal" >Number</text>
<text x="636.70" y="330.94" font-size="7.6" text-anchor="start" fill="#222" font-weight="normal" >of genes</text>
<circle cx="645.60" cy="340.00" r="4.70" fill="#000" />
<text x="658.40" y="342.74" font-size="7.6" text-anchor="start" fill="#222" font-weight="normal" >4</text>
<circle cx="645.60" cy="353.00" r="6.10" fill="#000" />
<text x="658.40" y="355.74" font-size="7.6" text-anchor="start" fill="#222" font-weight="normal" >8</text>
<circle cx="645.60" cy="368.30" r="6.80" fill="#000" />
<text x="658.40" y="371.04" font-size="7.6" text-anchor="start" fill="#222" font-weight="normal" >12</text>
<circle cx="645.60" cy="385.30" r="7.30" fill="#000" />
<text x="658.40" y="388.04" font-size="7.6" text-anchor="start" fill="#222" font-weight="normal" >16</text>
<text x="-0.20" y="459.90" font-size="12.0" text-anchor="start" fill="#000" font-weight="bold" >d</text>
<circle cx="38.60" cy="557.00" r="2.30" fill="#000" />
<circle cx="38.60" cy="570.70" r="2.30" fill="#000" />
<circle cx="38.60" cy="572.40" r="2.30" fill="#000" />
<circle cx="38.60" cy="574.20" r="2.30" fill="#000" />
<circle cx="38.60" cy="575.90" r="2.30" fill="#000" />
<circle cx="38.60" cy="577.70" r="2.30" fill="#000" />
<circle cx="38.60" cy="580.30" r="2.30" fill="#000" />
<circle cx="38.60" cy="582.00" r="2.30" fill="#000" />
<circle cx="38.60" cy="587.80" r="2.30" fill="#000" />
<circle cx="38.60" cy="596.60" r="2.30" fill="#000" />
<circle cx="38.60" cy="608.30" r="2.30" fill="#000" />
<circle cx="38.60" cy="609.70" r="2.30" fill="#000" />
<circle cx="38.60" cy="611.00" r="2.30" fill="#000" />
<circle cx="38.60" cy="614.50" r="2.30" fill="#000" />
<circle cx="113.00" cy="477.50" r="2.30" fill="#000" />
<circle cx="113.00" cy="478.80" r="2.30" fill="#000" />
<circle cx="113.00" cy="503.10" r="2.30" fill="#000" />
<circle cx="113.00" cy="510.70" r="2.30" fill="#000" />
<circle cx="113.00" cy="518.70" r="2.30" fill="#000" />
<circle cx="113.00" cy="520.60" r="2.30" fill="#000" />
<circle cx="113.00" cy="543.90" r="2.30" fill="#000" />
<circle cx="113.00" cy="556.90" r="2.30" fill="#000" />
<circle cx="113.00" cy="567.20" r="2.30" fill="#000" />
<circle cx="113.00" cy="572.10" r="2.30" fill="#000" />
<circle cx="113.00" cy="578.90" r="2.30" fill="#000" />
<circle cx="113.00" cy="580.30" r="2.30" fill="#000" />
<circle cx="113.00" cy="581.70" r="2.30" fill="#000" />
<circle cx="113.00" cy="591.30" r="2.30" fill="#000" />
<circle cx="113.00" cy="592.60" r="2.30" fill="#000" />
<circle cx="113.00" cy="594.70" r="2.30" fill="#000" />
<circle cx="113.00" cy="618.80" r="2.30" fill="#000" />
<circle cx="137.80" cy="493.10" r="2.30" fill="#000" />
<circle cx="137.80" cy="503.10" r="2.30" fill="#000" />
<circle cx="137.80" cy="510.40" r="2.30" fill="#000" />
<circle cx="137.80" cy="527.40" r="2.30" fill="#000" />
<circle cx="137.80" cy="535.80" r="2.30" fill="#000" />
<circle cx="137.80" cy="558.60" r="2.30" fill="#000" />
<circle cx="137.80" cy="560.50" r="2.30" fill="#000" />
<circle cx="137.80" cy="570.50" r="2.30" fill="#000" />
<circle cx="137.80" cy="575.30" r="2.30" fill="#000" />
<circle cx="162.60" cy="488.00" r="2.30" fill="#000" />
<circle cx="162.60" cy="551.00" r="2.30" fill="#000" />
<circle cx="212.20" cy="462.20" r="2.30" fill="#000" />
<circle cx="212.20" cy="464.00" r="2.30" fill="#000" />
<circle cx="212.20" cy="466.10" r="2.30" fill="#000" />
<circle cx="212.20" cy="478.00" r="2.30" fill="#000" />
<circle cx="212.20" cy="494.60" r="2.30" fill="#000" />
<circle cx="212.20" cy="496.30" r="2.30" fill="#000" />
<circle cx="212.20" cy="498.10" r="2.30" fill="#000" />
<circle cx="212.20" cy="499.80" r="2.30" fill="#000" />
<circle cx="212.20" cy="501.60" r="2.30" fill="#000" />
<circle cx="212.20" cy="510.30" r="2.30" fill="#000" />
<circle cx="212.20" cy="512.10" r="2.30" fill="#000" />
<circle cx="212.20" cy="514.70" r="2.30" fill="#000" />
<circle cx="212.20" cy="517.30" r="2.30" fill="#000" />
<circle cx="212.20" cy="519.10" r="2.30" fill="#000" />
<circle cx="212.20" cy="524.30" r="2.30" fill="#000" />
<circle cx="212.20" cy="526.00" r="2.30" fill="#000" />
<circle cx="212.20" cy="527.80" r="2.30" fill="#000" />
<circle cx="212.20" cy="530.40" r="2.30" fill="#000" />
<circle cx="212.20" cy="532.20" r="2.30" fill="#000" />
<circle cx="212.20" cy="533.90" r="2.30" fill="#000" />
<circle cx="212.20" cy="535.70" r="2.30" fill="#000" />
<circle cx="212.20" cy="537.40" r="2.30" fill="#000" />
<circle cx="212.20" cy="539.20" r="2.30" fill="#000" />
<circle cx="212.20" cy="547.90" r="2.30" fill="#000" />
<circle cx="212.20" cy="549.70" r="2.30" fill="#000" />
<circle cx="212.20" cy="554.00" r="2.30" fill="#000" />
<circle cx="212.20" cy="559.60" r="2.30" fill="#000" />
<path d="M38.60,569.40 L44.80,567.54 L51.00,565.66 L57.20,563.76 L63.40,561.85 L69.60,559.92 L75.80,557.96 L82.00,555.98 L88.20,553.96 L94.40,551.91 L100.60,549.82 L106.80,547.67 L113.00,545.48 L119.20,543.23 L125.40,540.91 L131.60,538.53 L137.80,536.08 L144.00,533.56 L150.20,530.98 L156.40,528.33 L162.60,525.62 L168.80,522.85 L175.00,520.04 L181.20,517.19 L187.40,514.30 L193.60,511.37 L199.80,508.42 L206.00,505.44 L212.20,502.45 L212.20,525.75 L206.00,527.67 L199.80,529.61 L193.60,531.57 L187.40,533.56 L181.20,535.58 L175.00,537.64 L168.80,539.75 L162.60,541.90 L156.40,544.10 L150.20,546.37 L144.00,548.70 L137.80,551.09 L131.60,553.56 L125.40,556.09 L119.20,558.69 L113.00,561.35 L106.80,564.07 L100.60,566.84 L94.40,569.66 L88.20,572.52 L82.00,575.42 L75.80,578.35 L69.60,581.31 L63.40,584.29 L57.20,587.29 L51.00,590.31 L44.80,593.35 L38.60,596.40 Z" fill="#8d8d8d" fill-opacity="0.41"/>
<circle cx="212.20" cy="462.20" r="2.20" fill="#000" />
<circle cx="212.20" cy="464.00" r="2.20" fill="#000" />
<circle cx="212.20" cy="466.10" r="2.20" fill="#000" />
<circle cx="212.20" cy="478.00" r="2.20" fill="#000" />
<circle cx="212.20" cy="494.60" r="2.20" fill="#000" />
<circle cx="212.20" cy="496.30" r="2.20" fill="#000" />
<circle cx="212.20" cy="498.10" r="2.20" fill="#000" />
<circle cx="212.20" cy="499.80" r="2.20" fill="#000" />
<circle cx="212.20" cy="501.60" r="2.20" fill="#000" />
<circle cx="212.20" cy="510.30" r="2.20" fill="#000" />
<circle cx="212.20" cy="512.10" r="2.20" fill="#000" />
<circle cx="212.20" cy="514.70" r="2.20" fill="#000" />
<circle cx="212.20" cy="517.30" r="2.20" fill="#000" />
<circle cx="212.20" cy="519.10" r="2.20" fill="#000" />
<circle cx="212.20" cy="524.30" r="2.20" fill="#000" />
<circle cx="212.20" cy="526.00" r="2.20" fill="#000" />
<circle cx="212.20" cy="527.80" r="2.20" fill="#000" />
<circle cx="212.20" cy="530.40" r="2.20" fill="#000" />
<circle cx="212.20" cy="532.20" r="2.20" fill="#000" />
<circle cx="212.20" cy="533.90" r="2.20" fill="#000" />
<circle cx="212.20" cy="535.70" r="2.20" fill="#000" />
<circle cx="212.20" cy="537.40" r="2.20" fill="#000" />
<circle cx="212.20" cy="539.20" r="2.20" fill="#000" />
<circle cx="212.20" cy="547.90" r="2.20" fill="#000" />
<circle cx="212.20" cy="549.70" r="2.20" fill="#000" />
<circle cx="212.20" cy="554.00" r="2.20" fill="#000" />
<circle cx="212.20" cy="559.60" r="2.20" fill="#000" />
<line x1="38.60" y1="582.90" x2="212.20" y2="514.10" stroke="#111" stroke-width="1.3" stroke-dasharray="7.6,3.4"/>
<line x1="30.60" y1="455.20" x2="30.60" y2="627.00" stroke="#959595" stroke-width="1.0" />
<line x1="30.10" y1="626.50" x2="220.20" y2="626.50" stroke="#959595" stroke-width="1.0" />
<line x1="26.60" y1="488.80" x2="30.60" y2="488.80" stroke="#959595" stroke-width="0.8" />
<text x="24.00" y="491.72" font-size="8.1" text-anchor="end" fill="#333" font-weight="normal" >40</text>
<line x1="26.60" y1="539.10" x2="30.60" y2="539.10" stroke="#959595" stroke-width="0.8" />
<text x="24.00" y="542.02" font-size="8.1" text-anchor="end" fill="#333" font-weight="normal" >20</text>
<line x1="26.60" y1="589.40" x2="30.60" y2="589.40" stroke="#959595" stroke-width="0.8" />
<text x="24.00" y="592.32" font-size="8.1" text-anchor="end" fill="#333" font-weight="normal" >0</text>
<line x1="38.60" y1="626.50" x2="38.60" y2="629.80" stroke="#aaa" stroke-width="0.8" />
<text x="38.60" y="639.32" font-size="8.1" text-anchor="middle" fill="#333" font-weight="normal" >0</text>
<line x1="88.20" y1="626.50" x2="88.20" y2="629.80" stroke="#aaa" stroke-width="0.8" />
<text x="88.20" y="639.32" font-size="8.1" text-anchor="middle" fill="#333" font-weight="normal" >2</text>
<line x1="137.80" y1="626.50" x2="137.80" y2="629.80" stroke="#aaa" stroke-width="0.8" />
<text x="137.80" y="639.32" font-size="8.1" text-anchor="middle" fill="#333" font-weight="normal" >4</text>
<line x1="187.40" y1="626.50" x2="187.40" y2="629.80" stroke="#aaa" stroke-width="0.8" />
<text x="187.40" y="639.32" font-size="8.1" text-anchor="middle" fill="#333" font-weight="normal" >6</text>
<text x="125.50" y="652.70" font-size="8.9" text-anchor="middle" fill="#222" font-weight="normal" textLength="79.00" lengthAdjust="spacingAndGlyphs">WHO severity score</text>
<text x="0" y="0" font-size="8.6" text-anchor="middle" fill="#222" transform="translate(7.70,540.90) rotate(-90)">TAA</text>
<text x="38.9" y="465.8" font-size="7.9" fill="#3a3a3a" textLength="69.6" lengthAdjust="spacingAndGlyphs"><tspan font-style="italic">R</tspan> = 0.66, <tspan font-style="italic">P</tspan> = 3.8 × 10</text>
<text x="108.7" y="462.0" font-size="5.2" fill="#3a3a3a">-9</text>
<text x="236.60" y="460.20" font-size="12.0" text-anchor="start" fill="#000" font-weight="bold" >e</text>
<text x="299.00" y="461.30" font-size="8.9" text-anchor="middle" fill="#222" font-weight="normal" textLength="62.20" lengthAdjust="spacingAndGlyphs">Severe patients</text>
<path d="M280.30,492.30 C281.60,492.85 285.03,494.65 288.10,495.60 C291.17,496.55 295.40,497.78 298.70,498.00 C302.00,498.22 305.28,497.40 307.90,496.90 C310.52,496.40 312.22,495.43 314.40,495.00 C316.58,494.57 317.72,494.08 321.00,494.30 C324.28,494.52 329.72,495.32 334.10,496.30 C338.48,497.28 342.15,498.45 347.30,500.20 C352.45,501.95 358.48,505.17 365.00,506.80 C371.52,508.43 382.83,509.47 386.40,510.00 L386.40,568.00 C384.68,566.00 380.53,559.38 376.10,556.00 C371.67,552.62 365.25,550.17 359.80,547.70 C354.35,545.23 348.87,543.38 343.40,541.20 C337.93,539.02 332.45,536.53 327.00,534.60 C321.55,532.67 315.32,530.20 310.70,529.60 C306.08,529.00 302.02,530.43 299.30,531.00 C296.58,531.57 296.58,531.58 294.40,533.00 C292.22,534.42 288.55,537.00 286.20,539.50 C283.85,542.00 281.28,546.58 280.30,548.00 Z" fill="#000" fill-opacity="0.036"/>
<path d="M299.00,477.20 C300.48,478.63 305.33,483.42 307.90,485.80 C310.47,488.18 312.22,490.05 314.40,491.50 C316.58,492.95 317.72,493.50 321.00,494.50 C324.28,495.50 328.22,495.83 334.10,497.50 C339.98,499.17 349.68,502.67 356.30,504.50 C362.92,506.33 368.85,507.83 373.80,508.50 C378.75,509.17 382.63,507.58 386.00,508.50 C389.37,509.42 391.33,512.42 394.00,514.00 C396.67,515.58 399.33,517.47 402.00,518.00 C404.67,518.53 407.33,518.13 410.00,517.20 C412.67,516.27 414.90,514.93 418.00,512.40 C421.10,509.87 426.83,503.73 428.60,502.00 L428.60,595.80 C426.83,595.27 422.43,593.93 418.00,592.60 C413.57,591.27 407.33,589.27 402.00,587.80 C396.67,586.33 391.53,584.73 386.00,583.80 C380.47,582.87 373.85,582.58 368.80,582.20 C363.75,581.82 360.07,582.15 355.70,581.50 C351.33,580.85 346.98,579.93 342.60,578.30 C338.22,576.67 333.78,574.00 329.40,571.70 C325.02,569.40 320.70,566.47 316.30,564.50 C311.90,562.53 305.88,560.78 303.00,559.90 C300.12,559.02 299.67,559.32 299.00,559.20 Z" fill="#000" fill-opacity="0.036"/>
<circle cx="275.20" cy="482.30" r="2.50" fill="#a8dbe9" fill-opacity="1"/>
<circle cx="333.40" cy="494.50" r="2.50" fill="#a8dbe9" fill-opacity="1"/>
<circle cx="312.20" cy="581.70" r="2.50" fill="#a8dbe9" fill-opacity="1"/>
<circle cx="328.30" cy="567.40" r="2.50" fill="#a8dbe9" fill-opacity="0.7"/>
<circle cx="391.80" cy="528.30" r="2.50" fill="#a8dbe9" fill-opacity="0.8"/>
<circle cx="402.60" cy="552.30" r="2.50" fill="#a8dbe9" fill-opacity="0.8"/>
<circle cx="402.60" cy="563.80" r="2.50" fill="#a8dbe9" fill-opacity="0.8"/>
<circle cx="428.80" cy="570.20" r="2.50" fill="#a8dbe9" fill-opacity="1"/>
<circle cx="359.90" cy="547.60" r="2.50" fill="#a8dbe9" fill-opacity="0.6"/>
<circle cx="323.00" cy="512.80" r="2.50" fill="#a8dbe9" fill-opacity="0.5"/>
<circle cx="312.50" cy="513.20" r="2.50" fill="#a8dbe9" fill-opacity="0.5"/>
<circle cx="291.00" cy="483.80" r="2.50" fill="#4a8fcf" fill-opacity="1"/>
<circle cx="296.40" cy="482.70" r="2.50" fill="#4a8fcf" fill-opacity="1"/>
<circle cx="291.00" cy="491.00" r="2.50" fill="#4a8fcf" fill-opacity="1"/>
<circle cx="301.40" cy="487.40" r="2.50" fill="#4a8fcf" fill-opacity="0.55"/>
<circle cx="312.50" cy="482.70" r="2.50" fill="#4a8fcf" fill-opacity="1"/>
<circle cx="280.30" cy="519.70" r="2.50" fill="#4a8fcf" fill-opacity="1"/>
<circle cx="296.40" cy="522.50" r="2.50" fill="#4a8fcf" fill-opacity="0.55"/>
<circle cx="312.50" cy="538.70" r="2.50" fill="#4a8fcf" fill-opacity="0.55"/>
<circle cx="317.60" cy="535.80" r="2.50" fill="#4a8fcf" fill-opacity="0.55"/>
<circle cx="280.30" cy="558.00" r="2.50" fill="#4a8fcf" fill-opacity="1"/>
<circle cx="296.40" cy="564.50" r="2.50" fill="#4a8fcf" fill-opacity="1"/>
<circle cx="386.50" cy="502.40" r="2.50" fill="#4a8fcf" fill-opacity="1"/>
<circle cx="338.70" cy="532.60" r="2.50" fill="#4a8fcf" fill-opacity="0.5"/>
<circle cx="344.10" cy="507.50" r="2.50" fill="#4a8fcf" fill-opacity="0.5"/>
<circle cx="354.90" cy="520.70" r="2.50" fill="#4a8fcf" fill-opacity="0.5"/>
<circle cx="359.90" cy="524.30" r="2.50" fill="#4a8fcf" fill-opacity="0.5"/>
<circle cx="354.90" cy="529.00" r="2.50" fill="#4a8fcf" fill-opacity="0.5"/>
<circle cx="370.30" cy="550.50" r="2.50" fill="#4a8fcf" fill-opacity="0.55"/>
<circle cx="375.70" cy="552.30" r="2.50" fill="#4a8fcf" fill-opacity="0.55"/>
<circle cx="381.10" cy="554.10" r="2.50" fill="#4a8fcf" fill-opacity="0.55"/>
<path d="M275.30,498.29 L278.44,500.90 L281.57,503.59 L284.71,506.30 L287.85,509.02 L290.98,511.71 L294.12,514.37 L297.26,516.96 L300.39,519.47 L303.53,521.88 L306.67,524.19 L309.80,526.39 L312.94,528.47 L316.08,530.41 L319.21,532.23 L322.35,533.92 L325.49,535.47 L328.62,536.90 L331.76,538.21 L334.90,539.39 L338.03,540.46 L341.17,541.42 L344.31,542.29 L347.44,543.06 L350.58,543.76 L353.72,544.38 L356.86,544.95 L359.99,545.47 L363.13,545.96 L366.27,546.42 L369.40,546.86 L372.54,547.31 L375.68,547.76 L378.81,548.24 L381.95,548.74 L385.09,549.28 L388.22,549.87 L391.36,550.52 L394.50,551.22 L397.63,552.00 L400.77,552.85 L403.91,553.77 L407.04,554.76 L410.18,555.84 L413.32,556.98 L416.45,558.20 L419.59,559.48 L422.73,560.81 L425.86,562.19 L429.00,563.60" fill="none" stroke="#a8dbe9" stroke-width="2.0"/>
<path d="M280.30,519.47 L282.47,518.46 L284.63,517.54 L286.80,516.69 L288.96,515.93 L291.13,515.25 L293.29,514.65 L295.46,514.13 L297.62,513.69 L299.79,513.33 L301.95,513.04 L304.12,512.83 L306.28,512.70 L308.45,512.63 L310.61,512.64 L312.78,512.72 L314.94,512.87 L317.11,513.08 L319.28,513.36 L321.44,513.70 L323.61,514.10 L325.77,514.55 L327.94,515.06 L330.10,515.62 L332.27,516.23 L334.43,516.89 L336.60,517.59 L338.76,518.34 L340.93,519.11 L343.09,519.93 L345.26,520.77 L347.42,521.65 L349.59,522.54 L351.76,523.46 L353.92,524.39 L356.09,525.33 L358.25,526.29 L360.42,527.24 L362.58,528.20 L364.75,529.15 L366.91,530.09 L369.08,531.02 L371.24,531.93 L373.41,532.82 L375.57,533.68 L377.74,534.51 L379.90,535.29 L382.07,536.04 L384.23,536.73 L386.40,537.37" fill="none" stroke="#4a8fcf" stroke-width="2.0"/>
<line x1="268.40" y1="466.00" x2="268.40" y2="658.70" stroke="#a5a5a5" stroke-width="1.0" />
<line x1="267.90" y1="658.20" x2="436.50" y2="658.20" stroke="#a5a5a5" stroke-width="1.0" />
<line x1="264.80" y1="474.80" x2="268.40" y2="474.80" stroke="#888" stroke-width="0.8" />
<text x="261.30" y="477.64" font-size="7.9" text-anchor="end" fill="#222" font-weight="normal" >40</text>
<line x1="264.80" y1="538.40" x2="268.40" y2="538.40" stroke="#888" stroke-width="0.8" />
<text x="261.30" y="541.24" font-size="7.9" text-anchor="end" fill="#222" font-weight="normal" >20</text>
<line x1="264.80" y1="602.30" x2="268.40" y2="602.30" stroke="#888" stroke-width="0.8" />
<text x="261.30" y="605.14" font-size="7.9" text-anchor="end" fill="#222" font-weight="normal" >0</text>
<line x1="307.40" y1="658.20" x2="307.40" y2="661.60" stroke="#888" stroke-width="0.8" />
<text x="307.40" y="671.44" font-size="7.9" text-anchor="middle" fill="#222" font-weight="normal" >10</text>
<line x1="360.10" y1="658.20" x2="360.10" y2="661.60" stroke="#888" stroke-width="0.8" />
<text x="360.10" y="671.44" font-size="7.9" text-anchor="middle" fill="#222" font-weight="normal" >20</text>
<line x1="412.80" y1="658.20" x2="412.80" y2="661.60" stroke="#888" stroke-width="0.8" />
<text x="412.80" y="671.44" font-size="7.9" text-anchor="middle" fill="#222" font-weight="normal" >30</text>
<text x="352.20" y="684.84" font-size="9.0" text-anchor="middle" fill="#222" font-weight="normal" textLength="107.60" lengthAdjust="spacingAndGlyphs">Days since symptom onset</text>
<text x="0" y="0" font-size="8.8" text-anchor="middle" fill="#222" transform="translate(244.77,562.20) rotate(-90)">TAA</text>
<text x="290.00" y="624.56" font-size="7.4" text-anchor="start" fill="#222" font-weight="normal" >Source</text>
<rect x="289.60" y="630.60" width="11.40" height="20.00" fill="#f2f2f2" stroke="none" stroke-width="1" />
<line x1="290.20" y1="634.90" x2="300.40" y2="634.90" stroke="#a8dbe9" stroke-width="1.8" />
<circle cx="295.30" cy="634.90" r="2.30" fill="#a8dbe9" />
<text x="303.70" y="637.67" font-size="7.7" text-anchor="start" fill="#222" font-weight="normal" >Liu et al.41</text>
<line x1="290.20" y1="646.30" x2="300.40" y2="646.30" stroke="#4a8fcf" stroke-width="1.8" />
<circle cx="295.30" cy="646.30" r="2.30" fill="#4a8fcf" />
<text x="303.70" y="649.07" font-size="7.7" text-anchor="start" fill="#222" font-weight="normal" >Schulte-Schrepping et al.55</text>
<text x="455.00" y="459.90" font-size="12.0" text-anchor="start" fill="#000" font-weight="bold" >f</text>
<text x="527.35" y="461.30" font-size="8.9" text-anchor="middle" fill="#222" font-weight="normal" textLength="78.30" lengthAdjust="spacingAndGlyphs">Long-COVID cohort</text>
<path d="M510.3,507.5 C525,528 540,541 551.3,546 C570,556 585,563 591.8,565 C610,570 625,569 632.3,566 C650,560 665,548 673.3,536 L673.3,598 C660,600 645,602 632.3,602 C615,603 600,604 591.8,604 C575,600 560,590 551.3,586 C535,577 520,568 510.3,562 Z" fill="#000" fill-opacity="0.038"/>
<path d="M510.3,524 C525,545 540,557 551.3,562 C570,572 585,578 591.8,580 C610,585 625,585 632.3,583 C650,575 665,562 673.3,548 L673.3,645 C660,638 645,630 632.3,627 C615,622 600,620 591.8,618 C575,610 560,604 551.3,601 C535,594 520,588 510.3,585.6 Z" fill="#000" fill-opacity="0.038"/>
<circle cx="510.30" cy="506.40" r="2.50" fill="#43389a" fill-opacity="1"/>
<circle cx="510.30" cy="524.30" r="2.50" fill="#43389a" fill-opacity="0.9"/>
<circle cx="510.30" cy="529.00" r="2.50" fill="#43389a" fill-opacity="0.9"/>
<circle cx="510.30" cy="553.00" r="2.50" fill="#43389a" fill-opacity="0.9"/>
<circle cx="510.30" cy="555.50" r="2.50" fill="#43389a" fill-opacity="0.9"/>
<circle cx="551.30" cy="562.00" r="2.50" fill="#43389a" fill-opacity="0.45"/>
<circle cx="551.30" cy="585.30" r="2.50" fill="#43389a" fill-opacity="0.45"/>
<circle cx="591.80" cy="541.90" r="2.50" fill="#43389a" fill-opacity="1"/>
<circle cx="591.80" cy="559.50" r="2.50" fill="#43389a" fill-opacity="1"/>
<circle cx="591.80" cy="571.30" r="2.50" fill="#43389a" fill-opacity="0.45"/>
<circle cx="591.80" cy="585.30" r="2.50" fill="#43389a" fill-opacity="0.4"/>
<circle cx="591.80" cy="618.30" r="2.50" fill="#43389a" fill-opacity="0.45"/>
<circle cx="591.80" cy="627.30" r="2.50" fill="#43389a" fill-opacity="1"/>
<circle cx="632.30" cy="557.70" r="2.50" fill="#43389a" fill-opacity="1"/>
<circle cx="632.30" cy="559.50" r="2.50" fill="#43389a" fill-opacity="1"/>
<circle cx="632.30" cy="576.30" r="2.50" fill="#43389a" fill-opacity="0.5"/>
<circle cx="632.30" cy="612.20" r="2.50" fill="#43389a" fill-opacity="0.5"/>
<circle cx="632.30" cy="620.50" r="2.50" fill="#43389a" fill-opacity="0.5"/>
<circle cx="673.30" cy="534.40" r="2.50" fill="#43389a" fill-opacity="1"/>
<circle cx="673.30" cy="558.40" r="2.50" fill="#43389a" fill-opacity="0.6"/>
<circle cx="673.30" cy="608.60" r="2.50" fill="#43389a" fill-opacity="0.9"/>
<circle cx="510.30" cy="527.20" r="2.50" fill="#d7192a" fill-opacity="0.6"/>
<circle cx="510.30" cy="565.60" r="2.50" fill="#d7192a" fill-opacity="1"/>
<circle cx="551.30" cy="547.60" r="2.50" fill="#d7192a" fill-opacity="1"/>
<circle cx="551.30" cy="565.60" r="2.50" fill="#d7192a" fill-opacity="0.35"/>
<circle cx="551.30" cy="609.40" r="2.50" fill="#d7192a" fill-opacity="1"/>
<circle cx="591.80" cy="555.90" r="2.50" fill="#d7192a" fill-opacity="1"/>
<circle cx="591.80" cy="596.80" r="2.50" fill="#d7192a" fill-opacity="0.3"/>
<circle cx="591.80" cy="625.90" r="2.50" fill="#d7192a" fill-opacity="1"/>
<circle cx="591.80" cy="639.10" r="2.50" fill="#d7192a" fill-opacity="1"/>
<circle cx="632.30" cy="587.10" r="2.50" fill="#d7192a" fill-opacity="0.35"/>
<circle cx="632.30" cy="591.80" r="2.50" fill="#d7192a" fill-opacity="0.35"/>
<circle cx="632.30" cy="606.80" r="2.50" fill="#d7192a" fill-opacity="0.5"/>
<circle cx="673.30" cy="604.00" r="2.50" fill="#d7192a" fill-opacity="1"/>
<defs><linearGradient id="redg" gradientUnits="userSpaceOnUse" x1="510" y1="0" x2="673" y2="0"><stop offset="0" stop-color="#e47073"/><stop offset="0.55" stop-color="#e36468"/><stop offset="0.75" stop-color="#da2a36"/><stop offset="1" stop-color="#d81a2a"/></linearGradient></defs>
<path d="M510.30,545.04 L513.05,547.46 L515.81,549.87 L518.56,552.27 L521.32,554.65 L524.07,557.01 L526.83,559.34 L529.58,561.65 L532.33,563.91 L535.09,566.14 L537.84,568.33 L540.60,570.47 L543.35,572.57 L546.11,574.61 L548.86,576.60 L551.61,578.52 L554.37,580.39 L557.12,582.20 L559.88,583.94 L562.63,585.61 L565.38,587.22 L568.14,588.75 L570.89,590.22 L573.65,591.61 L576.40,592.92 L579.16,594.16 L581.91,595.33 L584.66,596.41 L587.42,597.42 L590.17,598.36 L592.93,599.21 L595.68,599.99 L598.44,600.69 L601.19,601.32 L603.94,601.87 L606.70,602.34 L609.45,602.74 L612.21,603.07 L614.96,603.32 L617.72,603.51 L620.47,603.63 L623.22,603.68 L625.98,603.66 L628.73,603.59 L631.49,603.46 L634.24,603.27 L636.99,603.02 L639.75,602.72 L642.50,602.38 L645.26,601.99 L648.01,601.56 L650.77,601.10 L653.52,600.60 L656.27,600.07 L659.03,599.51 L661.78,598.94 L664.54,598.35 L667.29,597.75 L670.05,597.14 L672.80,596.53" fill="none" stroke="url(#redg)" stroke-width="1.8"/>
<path d="M510.30,534.48 L513.05,537.03 L515.81,539.57 L518.56,542.09 L521.32,544.58 L524.07,547.03 L526.83,549.44 L529.58,551.81 L532.33,554.13 L535.09,556.40 L537.84,558.60 L540.60,560.74 L543.35,562.82 L546.11,564.82 L548.86,566.75 L551.61,568.60 L554.37,570.37 L557.12,572.05 L559.88,573.65 L562.63,575.16 L565.38,576.58 L568.14,577.90 L570.89,579.14 L573.65,580.27 L576.40,581.31 L579.16,582.26 L581.91,583.10 L584.66,583.85 L587.42,584.50 L590.17,585.05 L592.93,585.50 L595.68,585.86 L598.44,586.13 L601.19,586.29 L603.94,586.37 L606.70,586.35 L609.45,586.25 L612.21,586.06 L614.96,585.78 L617.72,585.43 L620.47,584.99 L623.22,584.48 L625.98,583.90 L628.73,583.25 L631.49,582.54 L634.24,581.76 L636.99,580.93 L639.75,580.05 L642.50,579.13 L645.26,578.16 L648.01,577.17 L650.77,576.14 L653.52,575.09 L656.27,574.02 L659.03,572.94 L661.78,571.86 L664.54,570.78 L667.29,569.72 L670.05,568.67 L672.80,567.65" fill="none" stroke="#40338f" stroke-width="1.9"/>
<line x1="486.40" y1="466.00" x2="486.40" y2="658.70" stroke="#a5a5a5" stroke-width="1.0" />
<line x1="485.90" y1="658.20" x2="685.00" y2="658.20" stroke="#a5a5a5" stroke-width="1.0" />
<line x1="482.80" y1="474.80" x2="486.40" y2="474.80" stroke="#888" stroke-width="0.8" />
<text x="479.30" y="477.64" font-size="7.9" text-anchor="end" fill="#222" font-weight="normal" >40</text>
<line x1="482.80" y1="538.40" x2="486.40" y2="538.40" stroke="#888" stroke-width="0.8" />
<text x="479.30" y="541.24" font-size="7.9" text-anchor="end" fill="#222" font-weight="normal" >20</text>
<line x1="482.80" y1="602.30" x2="486.40" y2="602.30" stroke="#888" stroke-width="0.8" />
<text x="479.30" y="605.14" font-size="7.9" text-anchor="end" fill="#222" font-weight="normal" >0</text>
<line x1="510.30" y1="658.20" x2="510.30" y2="661.60" stroke="#888" stroke-width="0.8" />
<text x="510.30" y="671.34" font-size="7.6" text-anchor="middle" fill="#222" font-weight="normal" >Acute</text>
<line x1="551.30" y1="658.20" x2="551.30" y2="661.60" stroke="#888" stroke-width="0.8" />
<text x="551.30" y="671.34" font-size="7.6" text-anchor="middle" fill="#222" font-weight="normal" >-90</text>
<line x1="591.80" y1="658.20" x2="591.80" y2="661.60" stroke="#888" stroke-width="0.8" />
<text x="591.80" y="671.34" font-size="7.6" text-anchor="middle" fill="#222" font-weight="normal" >-180</text>
<line x1="632.30" y1="658.20" x2="632.30" y2="661.60" stroke="#888" stroke-width="0.8" />
<text x="632.30" y="671.34" font-size="7.6" text-anchor="middle" fill="#222" font-weight="normal" >-270</text>
<line x1="673.30" y1="658.20" x2="673.30" y2="661.60" stroke="#888" stroke-width="0.8" />
<text x="673.30" y="671.34" font-size="7.6" text-anchor="middle" fill="#222" font-weight="normal" >-420</text>
<text x="585.45" y="684.57" font-size="8.8" text-anchor="middle" fill="#222" font-weight="normal" textLength="94.90" lengthAdjust="spacingAndGlyphs">Days since PCR positive</text>
<text x="0" y="0" font-size="8.8" text-anchor="middle" fill="#222" transform="translate(462.47,562.30) rotate(-90)">TAA</text>
<text x="621.30" y="475.26" font-size="7.4" text-anchor="start" fill="#222" font-weight="normal" >Status</text>
<rect x="621.00" y="477.30" width="10.90" height="19.50" fill="#f2f2f2" stroke="none" stroke-width="1" />
<line x1="621.90" y1="482.00" x2="630.80" y2="482.00" stroke="#d7192a" stroke-width="1.8" />
<circle cx="626.30" cy="482.00" r="2.30" fill="#d7192a" />
<text x="636.00" y="484.63" font-size="7.3" text-anchor="start" fill="#222" font-weight="normal" >Severe</text>
<line x1="621.90" y1="492.40" x2="630.80" y2="492.40" stroke="#43389a" stroke-width="1.8" />
<circle cx="626.30" cy="492.40" r="2.30" fill="#43389a" />
<text x="636.00" y="495.03" font-size="7.3" text-anchor="start" fill="#222" font-weight="normal" >Severe-ICU</text>
</svg>
</body></html>
